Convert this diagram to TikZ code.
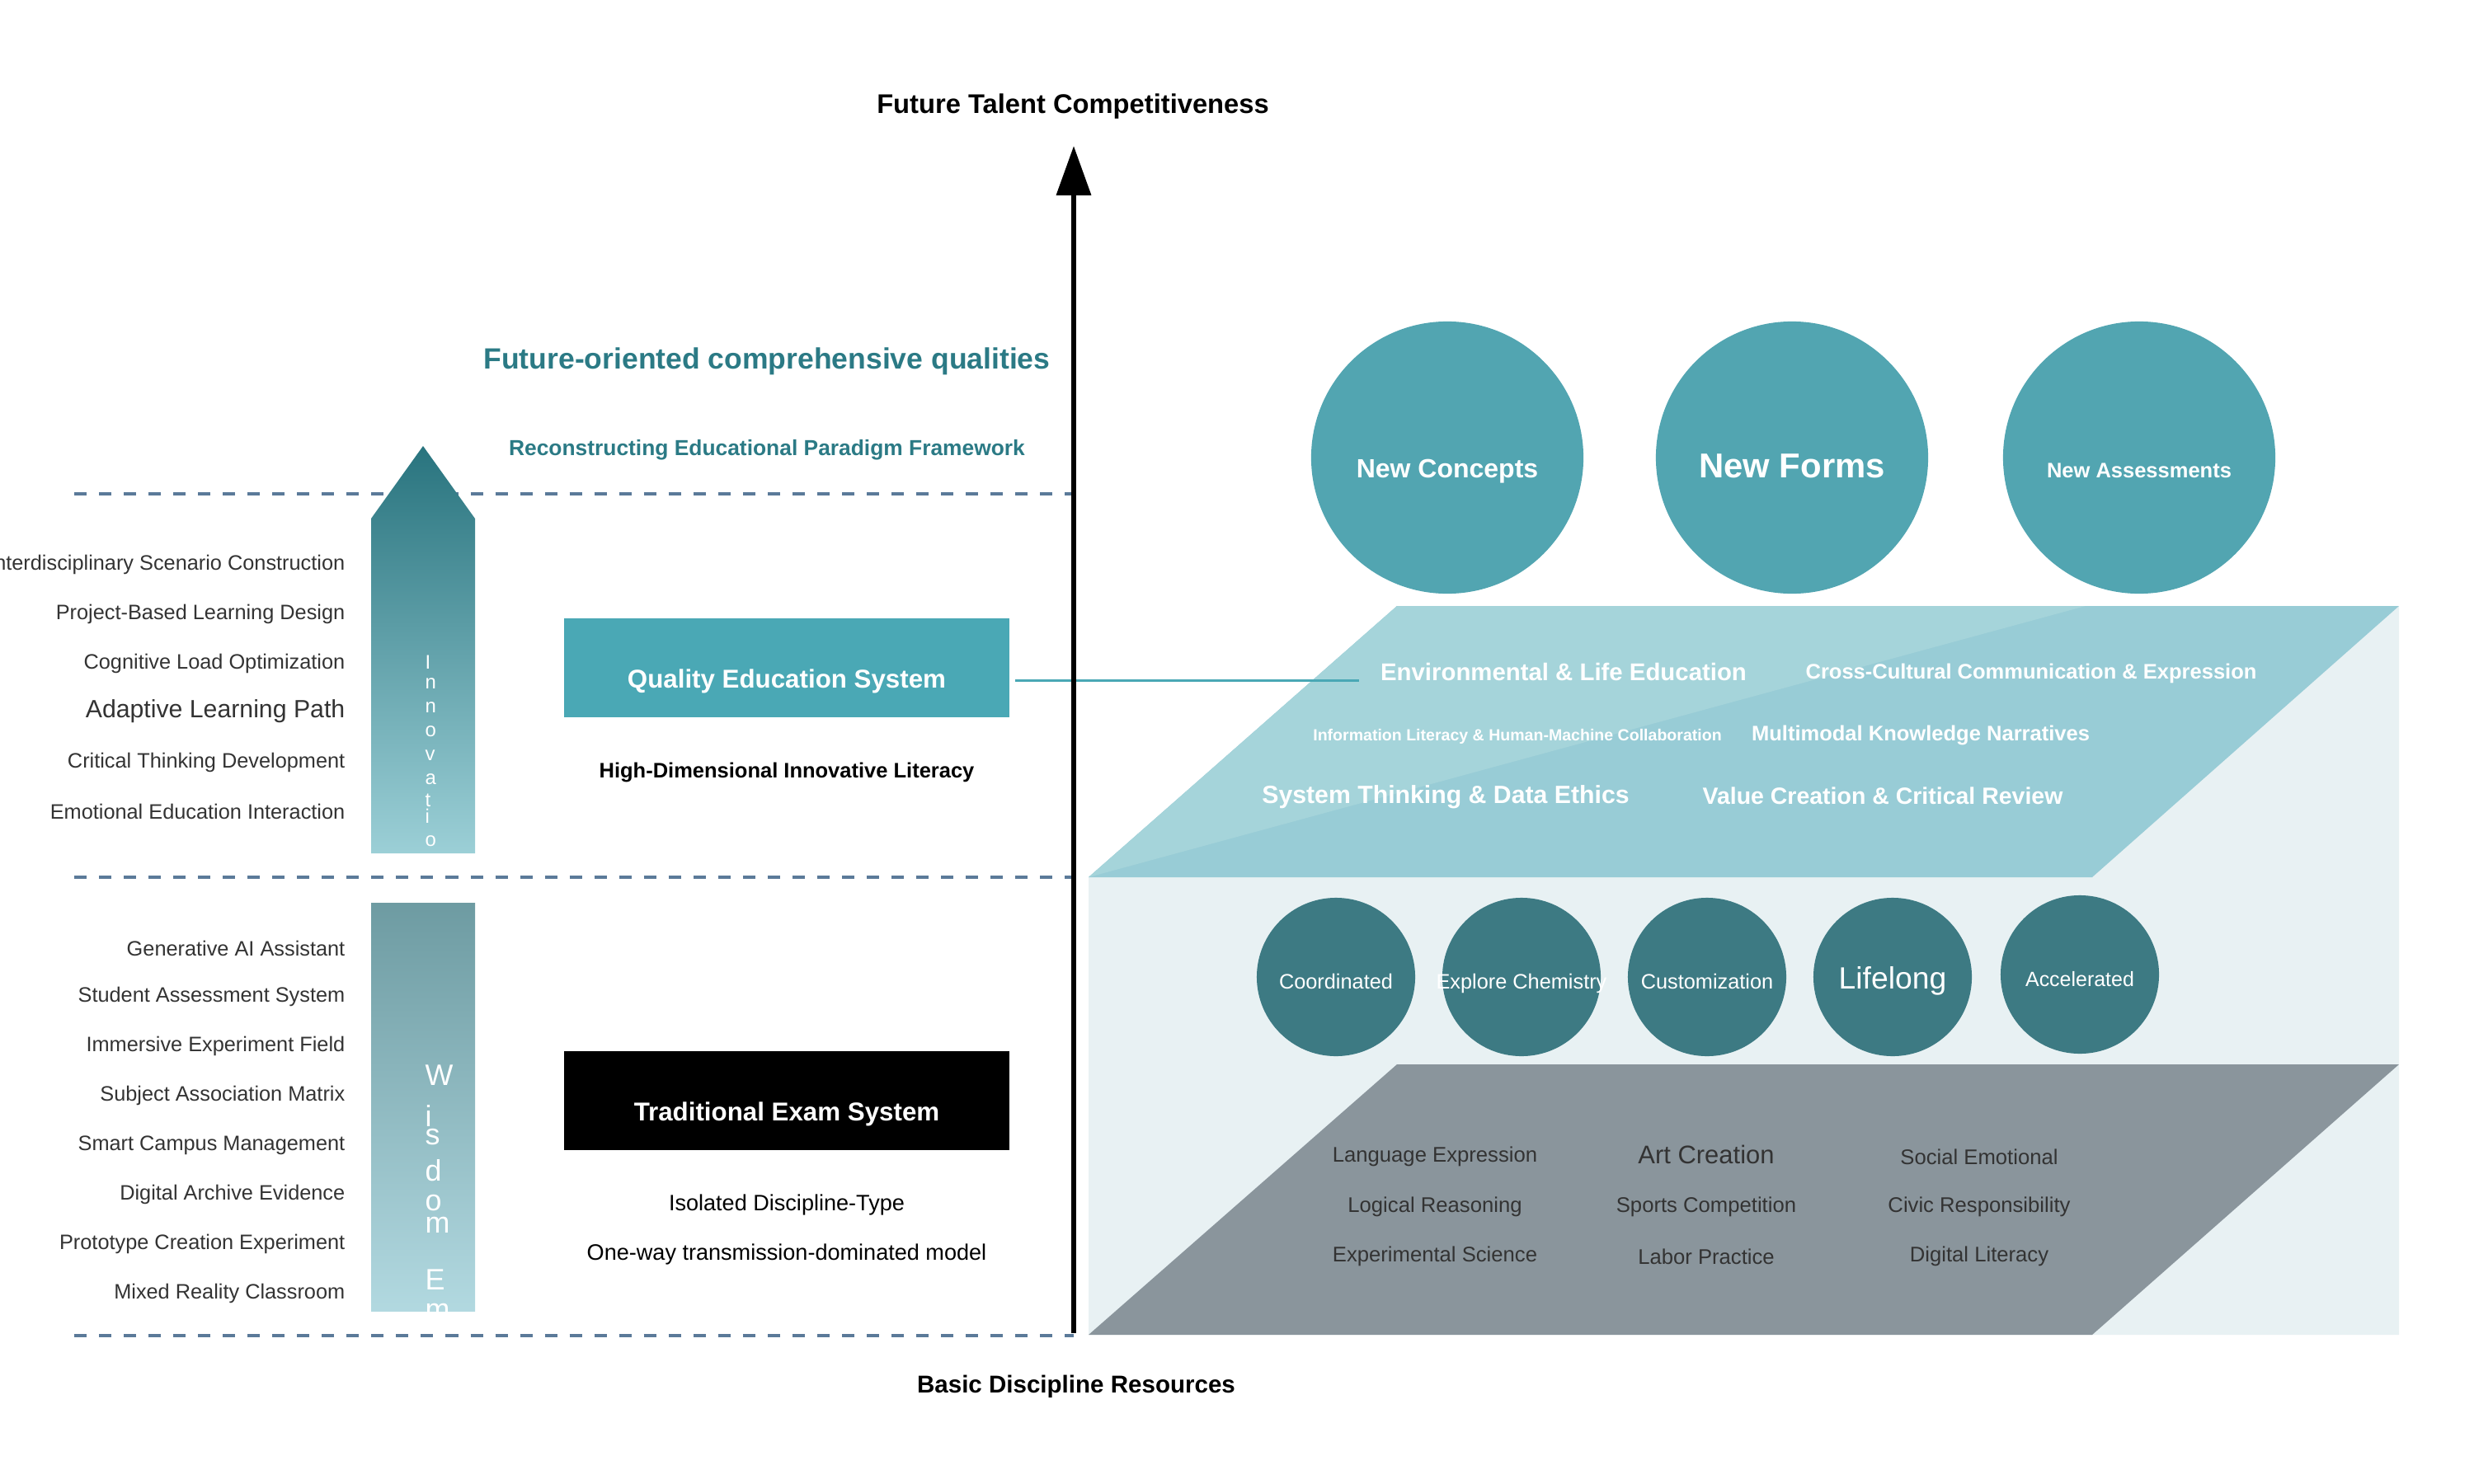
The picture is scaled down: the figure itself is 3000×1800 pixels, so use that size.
\documentclass[tikz,border=0pt]{standalone}
\usepackage{fontspec}
\setmainfont{Liberation Sans}
\usetikzlibrary{arrows.meta}

\definecolor{headteal}{HTML}{2B7A85}
\definecolor{boxteal}{HTML}{4AA8B5}
\definecolor{ballteal}{HTML}{52A5B1}
\definecolor{deepteal}{HTML}{3D7A83}
\definecolor{paleteal}{HTML}{98CCD6}
\definecolor{paleteallight}{HTML}{A5D4DA}
\definecolor{mistbg}{HTML}{E8F1F3}
\definecolor{slabgray}{HTML}{8A959C}
\definecolor{dashblue}{HTML}{5B7A99}
\definecolor{labelgray}{HTML}{333333}

\newcommand{\txtsize}[1]{\fontsize{#1pt}{#1pt}\selectfont}

\begin{document}
\begin{tikzpicture}[x=0.01cm, y=-0.01cm,
  lbl/.style={anchor=east, inner sep=0pt, text=labelgray, font=\txtsize{7.2}},
  dashrule/.style={draw=dashblue, line width=1.14pt, dash pattern=on 4.27pt off 4.27pt},
  sysbox/.style={rectangle, minimum width=5.4cm, minimum height=1.2cm, inner sep=0pt,
    text=white, font=\bfseries\txtsize{8.9}, text height=0.49cm, text depth=0cm},
  bigball/.style={circle, fill=ballteal, minimum size=3.3cm, inner sep=0pt,
    text=white, text height=0.49cm, text depth=0cm},
  ball/.style={circle, fill=deepteal, minimum size=1.92cm, inner sep=0pt, text=white,
    font=\txtsize{7.2}, text height=0.29cm, text depth=0cm},
  hitext/.style={inner sep=0pt, text=white},
  lotext/.style={inner sep=0pt, text=labelgray, font=\txtsize{7.3}},
  vletter/.style={inner sep=0pt, anchor=base west, text=white},
  link/.style={draw=boxteal, line width=0.85pt}]
\useasboundingbox (0,0) rectangle (3000,1800);

% Axis titles
\node[font=\bfseries\txtsize{9.3}, inner sep=0pt] (ftc) at (1301,129) {Future Talent Competitiveness};
\node[font=\bfseries\txtsize{8.4}, inner sep=0pt] (bdr) at (1305,1682) {Basic Discipline Resources};

% Level separators
\draw[dashrule] (90,599) -- (1302,599);
\draw[dashrule] (90,1064) -- (1302,1064);
\draw[dashrule] (90,1620) -- (1302,1620);

% Upper heading
\node[text=headteal, font=\bfseries\txtsize{10.1}, inner sep=0pt] (foq) at (930,438) {Future-oriented comprehensive qualities};
\node[text=headteal, font=\bfseries\txtsize{7.5}, inner sep=0pt] (repf) at (930,546) {Reconstructing Educational Paradigm Framework};

% Innovation arrow
\shade[top color=headteal!95!black, bottom color=boxteal!55!white] (450,1035) -- (450,629) -- (513,541) -- (576,629) -- (576,1035) -- cycle;
\foreach \ch/\bl [count=\k] in {I/811,n/835,n/864,o/893,v/922,a/951,t/978,i/998,o/1026}
  \node[vletter, font=\txtsize{6.8}] (inno\k) at (515,\bl) {\ch};

% Wisdom bar
\shade[top color=deepteal!75!white, bottom color=paleteal!75!white] (450,1095) rectangle (576,1590);
\begin{scope}
\clip (450,1095) rectangle (576,1590);
\foreach \ch/\bl [count=\k] in {W/1316,i/1366,s/1388,d/1432,o/1468,m/1495,E/1564,m/1600}
  \node[vletter, font=\txtsize{10.2}] (wis\k) at (515,\bl) {\ch};
\end{scope}

% Innovation methods
\node[lbl] (iscn) at (419,685) {Interdisciplinary Scenario Construction};
\node[lbl] (pbld) at (419,745) {Project-Based Learning Design};
\node[lbl] (clop) at (419,805) {Cognitive Load Optimization};
\node[lbl, font=\txtsize{8.6}] (alp) at (419,863) {Adaptive Learning Path};
\node[lbl] (ctd) at (419,925) {Critical Thinking Development};
\node[lbl] (eei) at (419,984) {Emotional Education Interaction};

% Wisdom tools
\node[lbl] (gaia) at (419,1150) {Generative AI Assistant};
\node[lbl] (sas) at (419,1209) {Student Assessment System};
\node[lbl] (ief) at (419,1269) {Immersive Experiment Field};
\node[lbl] (sam) at (419,1329) {Subject Association Matrix};
\node[lbl] (scm) at (419,1389) {Smart Campus Management};
\node[lbl] (dae) at (419,1449) {Digital Archive Evidence};
\node[lbl] (pce) at (419,1509) {Prototype Creation Experiment};
\node[lbl] (mrc) at (419,1569) {Mixed Reality Classroom};

% Systems
\node[sysbox, fill=boxteal] (qes) at (954,810) {Quality Education System};
\node[font=\bfseries\txtsize{7.25}, inner sep=0pt] (hdil) at (954,937) {High-Dimensional Innovative Literacy};
\node[sysbox, fill=black] (tes) at (954,1335) {Traditional Exam System};
\node[font=\txtsize{7.7}, inner sep=0pt] (idt) at (954,1461) {Isolated Discipline-Type};
\node[font=\txtsize{7.7}, inner sep=0pt] (owtm) at (954,1521) {One-way transmission-dominated model};

% Right side layers
\fill[mistbg] (1694,735) -- (2909,735) -- (2909,1619) -- (1320,1619) -- (1320,1064) -- cycle;
\fill[paleteal] (1694,735) -- (2909,735) -- (2537,1064) -- (1320,1064) -- cycle;
\fill[paleteallight] (1694,735) -- (2529,735) -- (1320,1064) -- cycle;
\fill[slabgray] (1694,1291) -- (2909,1291) -- (2537,1619) -- (1320,1619) -- cycle;

% Top circles
\node[bigball, font=\bfseries\txtsize{9.1}] (ncon) at (1755,555) {New Concepts};
\node[bigball, font=\bfseries\txtsize{11.9}] (nfor) at (2173,555) {New Forms};
\node[bigball, font=\bfseries\txtsize{7.25}] (nass) at (2594,555) {New Assessments};

% Literacy layer
\node[hitext, font=\bfseries\txtsize{8.35}] (env) at (1896,815) {Environmental \& Life Education};
\node[hitext, font=\bfseries\txtsize{7.25}] (ccce) at (2463,817) {Cross-Cultural Communication \& Expression};
\node[hitext, font=\bfseries\txtsize{5.56}] (ilhm) at (1840,893) {Information Literacy \& Human-Machine Collaboration};
\node[hitext, font=\bfseries\txtsize{7.26}] (mkn) at (2329,892) {Multimodal Knowledge Narratives};
\node[hitext, font=\bfseries\txtsize{8.6}] (stde) at (1753,967) {System Thinking \& Data Ethics};
\node[hitext, font=\bfseries\txtsize{8.1}] (vccr) at (2283,965) {Value Creation \& Critical Review};

% Mode circles
\node[ball] (coor) at (1620,1185) {Coordinated};
\node[ball] (expc) at (1845,1185) {\makebox[0pt]{Explore Chemistry}};
\node[ball] (cust) at (2070,1185) {Customization};
\node[ball, font=\txtsize{10.6}] (life) at (2295,1185) {Lifelong};
\node[ball, font=\txtsize{7.1}] (acce) at (2522,1182) {Accelerated};

% Discipline layer
\node[lotext] (lex) at (1740,1403) {Language Expression};
\node[lotext, font=\txtsize{8.8}] (acr) at (2069,1400) {Art Creation};
\node[lotext] (soe) at (2400,1403) {Social Emotional};
\node[lotext] (lre) at (1740,1464) {Logical Reasoning};
\node[lotext] (spc) at (2069,1464) {Sports Competition};
\node[lotext] (cvr) at (2400,1464) {Civic Responsibility};
\node[lotext] (exs) at (1740,1524) {Experimental Science};
\node[lotext] (lpr) at (2069,1524) {Labor Practice};
\node[lotext] (dli) at (2400,1524) {Digital Literacy};

% Link and vertical axis
\draw[link, shorten <=1.7pt, shorten >=7.1pt] (qes.east |- env.base west) -- (env.base west);
\coordinate (axisbot) at (1302,1617);
\coordinate (axistop) at (1302,177);
\draw[line width=1.7pt, -{Triangle[length=17pt, width=11.7pt]}] (axisbot) -- (axistop);
\end{tikzpicture}
\end{document}
